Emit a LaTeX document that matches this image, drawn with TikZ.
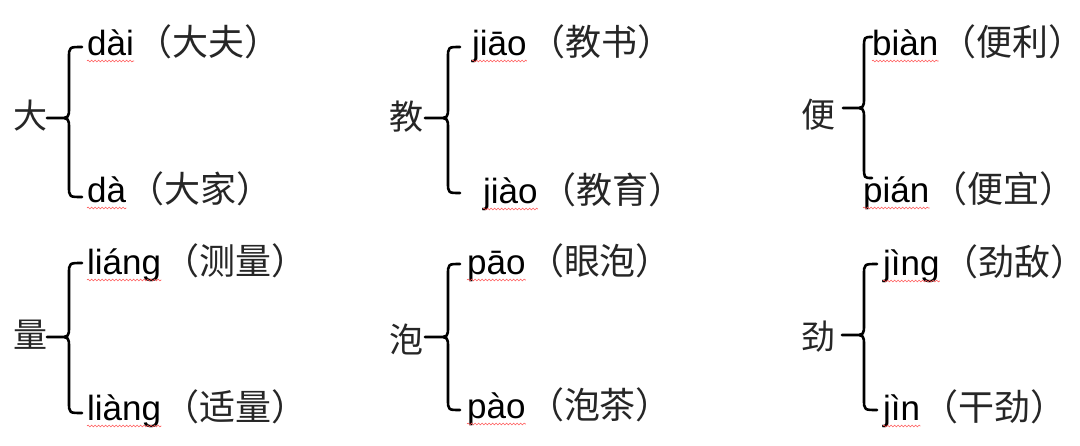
\documentclass[tikz,border=0pt]{standalone}
\usepackage{fontspec}
\setmainfont{Liberation Sans}
\newfontfamily\cjk{Noto Sans CJK SC}
\usetikzlibrary{calc,decorations.pathmorphing}
\tikzset{
  bracel/.style={line width=2.6pt, black, line cap=round, line join=round},
  headch/.style={font=\cjk\fontsize{34}{34}\selectfont, text=black!85, inner sep=0pt},
  py/.style={font=\fontsize{35}{35}\selectfont, inner sep=0pt, anchor=base west},
  zh/.style={font=\cjk\fontsize{36}{36}\selectfont, text=black!85, inner sep=0pt, anchor=base west},
  squig/.style={draw=red!65!white, line width=0.6pt, decorate,
    decoration={snake, amplitude=0.9pt, segment length=3.5pt}}
}
\newcommand\rpar{\makebox[20pt][l]{）}}
% brace: #1 tip x, #2 mid y, #3 vertical x, #4 top y, #5 bottom y, #6 end x
\newcommand\mybrace[6]{%
  \draw[bracel] (#6,#4) .. controls (#3,#4) .. (#3,#4+11) -- (#3,#2-11)
    .. controls (#3,#2) .. (#3-11,#2) -- (#1,#2) -- (#3-11,#2)
    .. controls (#3,#2) .. (#3,#2+11) -- (#3,#5-11)
    .. controls (#3,#5) .. (#6,#5);}
% entry: #1 name, #2 x, #3 baseline y, #4 pinyin, #5 chinese
\newcommand\entry[5]{%
  \node[py] (#1p) at (#2,#3) {#4};
  \node[zh] (#1z) at ($(#1p.base east)+(2,0)$) {（#5\rpar};
  \draw[squig] ($(#1p.base west)+(0,6)$) -- ($(#1p.base east)+(0,6)$);}
\begin{document}
\begin{tikzpicture}[x=1pt,y=-1pt]
\useasboundingbox[fill=white] (0,0) rectangle (1080,445);
% panel 1
\node[headch] (c1) at (30,116) {大};
\mybrace{47}{118}{69}{47}{197}{82}
\entry{a1}{87}{55}{dài}{大夫}
\entry{a2}{87}{202}{dà}{大家}
% panel 2
\node[headch] (c2) at (406,117) {教};
\mybrace{425}{118}{448}{47}{193}{460}
\entry{b1}{472}{55}{jiāo}{教书}
\entry{b2}{483}{203}{jiào}{教育}
% panel 3
\node[headch] (c3) at (818,115) {便};
\mybrace{843}{108}{864}{37}{178}{872}
\entry{d1}{872}{55}{biàn}{便利}
\entry{d2}{863}{202}{pián}{便宜}
% panel 4
\node[headch] (c4) at (30,335) {量};
\mybrace{47}{337}{69}{263}{413}{82}
\entry{e1}{87}{274}{liáng}{测量}
\entry{e2}{87}{420}{liàng}{适量}
% panel 5
\node[headch] (c5) at (406,339) {泡};
\mybrace{425}{337}{448}{264}{410}{460}
\entry{f1}{467}{274}{pāo}{眼泡}
\entry{f2}{467}{418}{pào}{泡茶}
% panel 6
\node[headch] (c6) at (818,337) {劲};
\mybrace{842}{335}{864}{264}{410}{877}
\entry{g1}{883}{275}{jìng}{劲敌}
\entry{g2}{883}{420}{jìn}{干劲}
\end{tikzpicture}
\end{document}
